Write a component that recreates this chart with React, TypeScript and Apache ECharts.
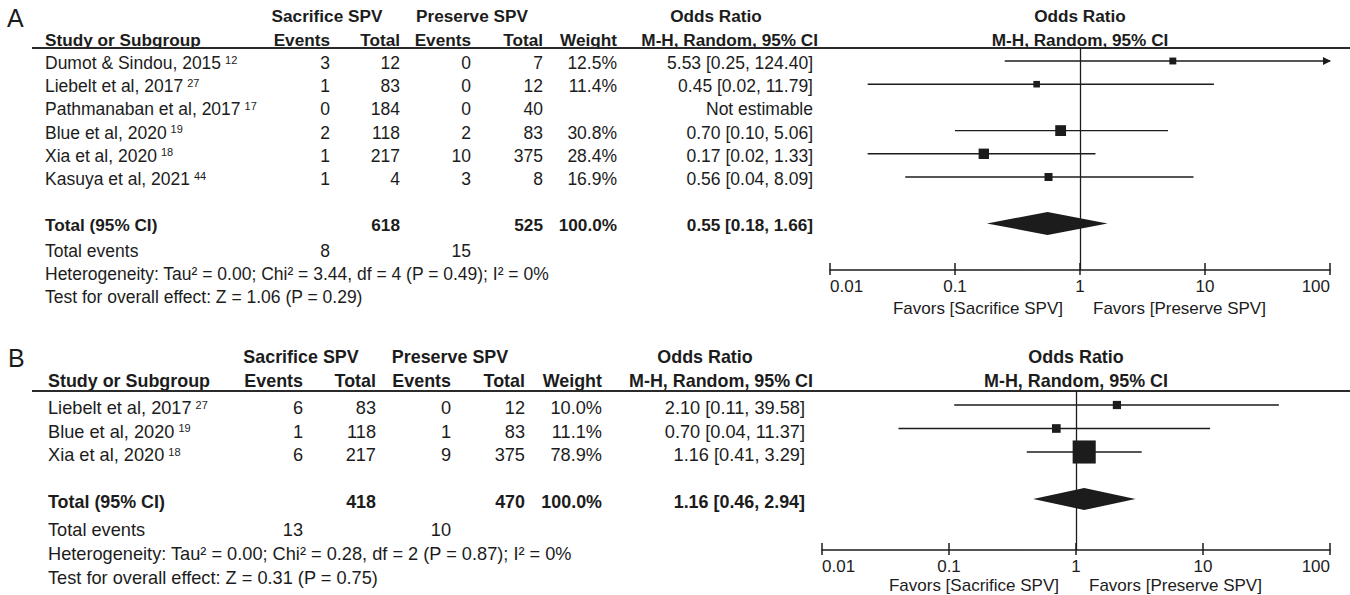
import React, { useEffect, useRef } from "react";
import * as echarts from "echarts";

const FONT = '"Liberation Sans", Arial, Helvetica, sans-serif';
const INK = "#1c1c1c";

// ---------------- Panel A data ----------------
const studiesA = ["Dumot & Sindou, 2015", "Liebelt et al, 2017", "Pathmanaban et al, 2017", "Blue et al, 2020", "Xia et al, 2020", "Kasuya et al, 2021"];
const refsA = ["12", "27", "17", "19", "18", "44"];
const sacEventsA = [3, 1, 0, 2, 1, 1];
const sacTotalA = [12, 83, 184, 118, 217, 4];
const presEventsA = [0, 0, 0, 2, 10, 3];
const presTotalA = [7, 12, 40, 83, 375, 8];
const weightA: (number | null)[] = [12.5, 11.4, null, 30.8, 28.4, 16.9];
const orA: (number | null)[] = [5.53, 0.45, null, 0.7, 0.17, 0.56];
const lowA: (number | null)[] = [0.25, 0.02, null, 0.1, 0.02, 0.04];
const highA: (number | null)[] = [124.4, 11.79, null, 5.06, 1.33, 8.09];
const pooledA = [0.55, 0.18, 1.66];
const hetA = "Heterogeneity: Tau² = 0.00; Chi² = 3.44, df = 4 (P = 0.49); I² = 0%";
const testA = "Test for overall effect: Z = 1.06 (P = 0.29)";

// ---------------- Panel B data ----------------
const studiesB = ["Liebelt et al, 2017", "Blue et al, 2020", "Xia et al, 2020"];
const refsB = ["27", "19", "18"];
const sacEventsB = [6, 1, 6];
const sacTotalB = [83, 118, 217];
const presEventsB = [0, 1, 9];
const presTotalB = [12, 83, 375];
const weightB: (number | null)[] = [10.0, 11.1, 78.9];
const orB: (number | null)[] = [2.1, 0.7, 1.16];
const lowB: (number | null)[] = [0.11, 0.04, 0.41];
const highB: (number | null)[] = [39.58, 11.37, 3.29];
const pooledB = [1.16, 0.46, 2.94];
const hetB = "Heterogeneity: Tau² = 0.00; Chi² = 0.28, df = 2 (P = 0.87); I² = 0%";
const testB = "Test for overall effect: Z = 0.31 (P = 0.75)";

// ---------------- shared labels ----------------
const axisRange = [0.01, 100];
const groupLabels = ["Sacrifice SPV", "Preserve SPV"];
const colHeaders = ["Events", "Total", "Events", "Total", "Weight"];
const favorLabels = ["Favors [Sacrifice SPV]", "Favors [Preserve SPV]"];

// ---------------- layout (positions / sizes only) ----------------
const LAYOUT_A = {
  letter: "A", letterX: 7, letterY: 18,
  labelX: 45, h1Y: 16, h2Y: 40, lineY: 48,
  cols: [330, 400, 471, 543, 617, 813], orHeadRight: 818,
  sacCenter: 327, presCenter: 472, orCenter: 716,
  rowY0: 61, rowStep: 23.2, textDy: 2, totalRow: 7,
  eventsY: 251, hetY: 274, testY: 297,
  gridLeft: 830, gridWidth: 500, axisY: 270, favorsY: 308,
  fsReg: 17.5, fsBold: 17.2, sizeK: 1.95, halfH: 11.5,
};
const LAYOUT_B = {
  letter: "B", letterX: 8, letterY: 358,
  labelX: 48, h1Y: 357, h2Y: 381, lineY: 391,
  cols: [303, 376, 451, 525, 602, 805], orHeadRight: 813,
  sacCenter: 301, presCenter: 450, orCenter: 705,
  rowY0: 405, rowStep: 23.5, textDy: 3, totalRow: 4,
  eventsY: 530, hetY: 554, testY: 578,
  gridLeft: 822, gridWidth: 508, axisY: 550, favorsY: 585,
  fsReg: 18.2, fsBold: 17.9, sizeK: 2.6, halfH: 11,
};

type Panel = {
  studies: string[]; refs: string[]; sacEvents: number[]; sacTotal: number[];
  presEvents: number[]; presTotal: number[]; weight: (number | null)[];
  or: (number | null)[]; low: (number | null)[]; high: (number | null)[];
  pooled: number[]; het: string; test: string;
};

const sum = (a: (number | null)[]) => a.reduce((s: number, v) => s + (v ?? 0), 0);
const fmtOR = (o: number, l: number, h: number) => `${o.toFixed(2)} [${l.toFixed(2)}, ${h.toFixed(2)}]`;

function text(x: number, y: number, t: string, size: number, bold = false, align = "left") {
  return {
    type: "text", x, y, silent: true,
    style: { text: t, fontFamily: FONT, fontSize: size, fontWeight: bold ? "bold" : "normal", fill: INK, align, verticalAlign: "middle" },
  };
}

function supText(x: number, y: number, name: string, ref: string, size: number) {
  return {
    type: "text", x, y, silent: true,
    style: {
      text: `{n|${name}}{s|${ref}}`, align: "left", verticalAlign: "middle",
      fontFamily: FONT, fontSize: size, fill: INK,
      rich: {
        n: { fontFamily: FONT, fontSize: size, fill: INK },
        s: { fontFamily: FONT, fontSize: 11, fill: INK, verticalAlign: "top", padding: [0, 0, 0, 4] },
      },
    },
  };
}

function renderForest(sizeK: number, halfH: number) {
  return (_params: any, api: any) => {
    const kind = api.value(0);
    const est = api.value(1), lo = api.value(2), hi = api.value(3), row = api.value(4), w = api.value(5);
    const xMax = axisRange[1];
    const pLo = api.coord([lo, row]);
    const pHi = api.coord([Math.min(hi, xMax), row]);
    const pEst = api.coord([est, row]);
    if (kind === 1) {
      return {
        type: "polygon",
        shape: { points: [[pLo[0], pEst[1]], [pEst[0], pEst[1] - halfH], [pHi[0], pEst[1]], [pEst[0], pEst[1] + halfH]] },
        style: { fill: INK },
      };
    }
    const s = sizeK * Math.sqrt(w);
    const children: any[] = [
      { type: "line", shape: { x1: pLo[0], y1: pLo[1], x2: pHi[0], y2: pHi[1] }, style: { stroke: INK, lineWidth: 1.4 } },
      { type: "rect", shape: { x: pEst[0] - s / 2, y: pEst[1] - s / 2, width: s, height: s }, style: { fill: INK } },
    ];
    if (hi > xMax) {
      children.push({
        type: "polygon",
        shape: { points: [[pHi[0] + 1, pHi[1]], [pHi[0] - 7, pHi[1] - 4], [pHi[0] - 7, pHi[1] + 4]] },
        style: { fill: INK },
      });
    }
    return { type: "group", children };
  };
}

function buildPanel(p: Panel, L: typeof LAYOUT_A, gi: number) {
  const graphics: any[] = [];
  const x1 = L.gridLeft + L.gridWidth / 2;
  const rowMark = (i: number) => L.rowY0 + L.rowStep * i;
  const rowText = (i: number) => rowMark(i) + L.textDy;

  graphics.push(text(L.letterX, L.letterY, L.letter, 25));
  graphics.push(text(L.sacCenter, L.h1Y, groupLabels[0], L.fsBold, true, "center"));
  graphics.push(text(L.presCenter, L.h1Y, groupLabels[1], L.fsBold, true, "center"));
  graphics.push(text(L.orCenter, L.h1Y, "Odds Ratio", L.fsBold, true, "center"));
  graphics.push(text(x1, L.h1Y, "Odds Ratio", L.fsBold, true, "center"));
  graphics.push(text(L.labelX, L.h2Y, "Study or Subgroup", L.fsBold, true));
  colHeaders.forEach((h, k) => graphics.push(text(L.cols[k], L.h2Y, h, L.fsBold, true, "right")));
  graphics.push(text(L.orHeadRight, L.h2Y, "M-H, Random, 95% CI", L.fsBold, true, "right"));
  graphics.push(text(x1, L.h2Y, "M-H, Random, 95% CI", L.fsBold, true, "center"));
  graphics.push({ type: "line", silent: true, shape: { x1: 32, y1: L.lineY, x2: 1350, y2: L.lineY }, style: { stroke: "#2a2a2a", lineWidth: 2 } });

  p.studies.forEach((name, i) => {
    const y = rowText(i);
    graphics.push(supText(L.labelX, y, name, p.refs[i], L.fsReg));
    graphics.push(text(L.cols[0], y, String(p.sacEvents[i]), L.fsReg, false, "right"));
    graphics.push(text(L.cols[1], y, String(p.sacTotal[i]), L.fsReg, false, "right"));
    graphics.push(text(L.cols[2], y, String(p.presEvents[i]), L.fsReg, false, "right"));
    graphics.push(text(L.cols[3], y, String(p.presTotal[i]), L.fsReg, false, "right"));
    const w = p.weight[i];
    if (w != null) graphics.push(text(L.cols[4], y, `${w.toFixed(1)}%`, L.fsReg, false, "right"));
    const o = p.or[i], lo = p.low[i], hi = p.high[i];
    graphics.push(text(L.cols[5], y, o != null && lo != null && hi != null ? fmtOR(o, lo, hi) : "Not estimable", L.fsReg, false, "right"));
  });

  const ty = rowText(L.totalRow);
  graphics.push(text(L.labelX, ty, "Total (95% CI)", L.fsBold, true));
  graphics.push(text(L.cols[1], ty, String(sum(p.sacTotal)), L.fsBold, true, "right"));
  graphics.push(text(L.cols[3], ty, String(sum(p.presTotal)), L.fsBold, true, "right"));
  graphics.push(text(L.cols[4], ty, `${sum(p.weight).toFixed(1)}%`, L.fsBold, true, "right"));
  graphics.push(text(L.cols[5], ty, fmtOR(p.pooled[0], p.pooled[1], p.pooled[2]), L.fsBold, true, "right"));

  graphics.push(text(L.labelX, L.eventsY, "Total events", L.fsReg));
  graphics.push(text(L.cols[0], L.eventsY, String(sum(p.sacEvents)), L.fsReg, false, "right"));
  graphics.push(text(L.cols[2], L.eventsY, String(sum(p.presEvents)), L.fsReg, false, "right"));
  graphics.push(text(L.labelX, L.hetY, p.het, L.fsReg));
  graphics.push(text(L.labelX, L.testY, p.test, L.fsReg));

  graphics.push(text(x1 - 17, L.favorsY, favorLabels[0], 17, false, "right"));
  graphics.push(text(x1 + 13, L.favorsY, favorLabels[1], 17, false, "left"));

  // grids
  const yMin = (L.lineY - L.rowY0) / L.rowStep;
  const yMax = (L.axisY - L.rowY0) / L.rowStep;
  const gridBase = { left: L.gridLeft, width: L.gridWidth, top: L.lineY, height: L.axisY - L.lineY, containLabel: false, outerBoundsMode: "none", show: false };
  const grids = [{ ...gridBase }, { ...gridBase }];
  const xAxes = [
    {
      gridIndex: gi, type: "log", logBase: 10, min: axisRange[0], max: axisRange[1], position: "bottom",
      axisLine: { show: true, onZero: false, lineStyle: { color: INK, width: 1.5 } },
      axisTick: { show: true, length: 5, inside: false, lineStyle: { color: INK, width: 1.5 } },
      minorTick: { show: false }, splitLine: { show: false },
      axisLabel: {
        show: true, color: INK, fontFamily: FONT, fontSize: 17, margin: 8,
        alignMinLabel: "left", alignMaxLabel: "right",
        formatter: (v: number) => String(Number(v.toPrecision(6))),
      },
    },
    {
      gridIndex: gi + 1, type: "log", logBase: 10, min: axisRange[0], max: axisRange[1], position: "bottom",
      axisLine: { show: false, onZero: false },
      axisTick: { show: true, length: 7, inside: true, lineStyle: { color: INK, width: 1.5 } },
      minorTick: { show: false }, splitLine: { show: false }, axisLabel: { show: false },
    },
  ];
  const yAxes = [
    { gridIndex: gi, type: "value", inverse: true, min: yMin, max: yMax, show: false },
    { gridIndex: gi + 1, type: "value", inverse: true, min: yMin, max: yMax, show: false },
  ];

  const data: any[] = [];
  p.studies.forEach((_, i) => {
    const o = p.or[i], lo = p.low[i], hi = p.high[i], w = p.weight[i];
    if (o != null && lo != null && hi != null && w != null) data.push([0, o, lo, hi, i, w]);
  });
  data.push([1, p.pooled[0], p.pooled[1], p.pooled[2], L.totalRow, 100]);

  const series = {
    type: "custom",
    xAxisIndex: gi, yAxisIndex: gi,
    coordinateSystem: "cartesian2d",
    encode: { x: [1, 2], y: 4 },
    renderItem: renderForest(L.sizeK, L.halfH),
    data,
    silent: true,
    markLine: {
      silent: true, symbol: ["none", "none"], label: { show: false },
      lineStyle: { color: INK, width: 1.3, type: "solid" },
      data: [{ xAxis: 1 }],
    },
  };
  return { graphics, grids, xAxes, yAxes, series };
}

export default function App() {
  const ref = useRef<HTMLDivElement>(null);
  useEffect(() => {
    if (!ref.current) return;
    const chart = echarts.init(ref.current, undefined, { renderer: "svg" });
    const pA = buildPanel({
      studies: studiesA, refs: refsA, sacEvents: sacEventsA, sacTotal: sacTotalA,
      presEvents: presEventsA, presTotal: presTotalA, weight: weightA,
      or: orA, low: lowA, high: highA, pooled: pooledA, het: hetA, test: testA,
    }, LAYOUT_A, 0);
    const pB = buildPanel({
      studies: studiesB, refs: refsB, sacEvents: sacEventsB, sacTotal: sacTotalB,
      presEvents: presEventsB, presTotal: presTotalB, weight: weightB,
      or: orB, low: lowB, high: highB, pooled: pooledB, het: hetB, test: testB,
    }, LAYOUT_B as any, 2);
    chart.setOption({
      animation: false,
      backgroundColor: "#ffffff",
      textStyle: { fontFamily: FONT },
      grid: [...pA.grids, ...pB.grids],
      xAxis: [...pA.xAxes, ...pB.xAxes],
      yAxis: [...pA.yAxes, ...pB.yAxes],
      series: [pA.series, pB.series],
      graphic: { elements: [...pA.graphics, ...pB.graphics] },
    } as any);
    return () => chart.dispose();
  }, []);
  return (
    <div
      ref={ref}
      style={{ position: "fixed", left: 0, top: 0, width: 1350, height: 595, background: "#fff" }}
    />
  );
}
